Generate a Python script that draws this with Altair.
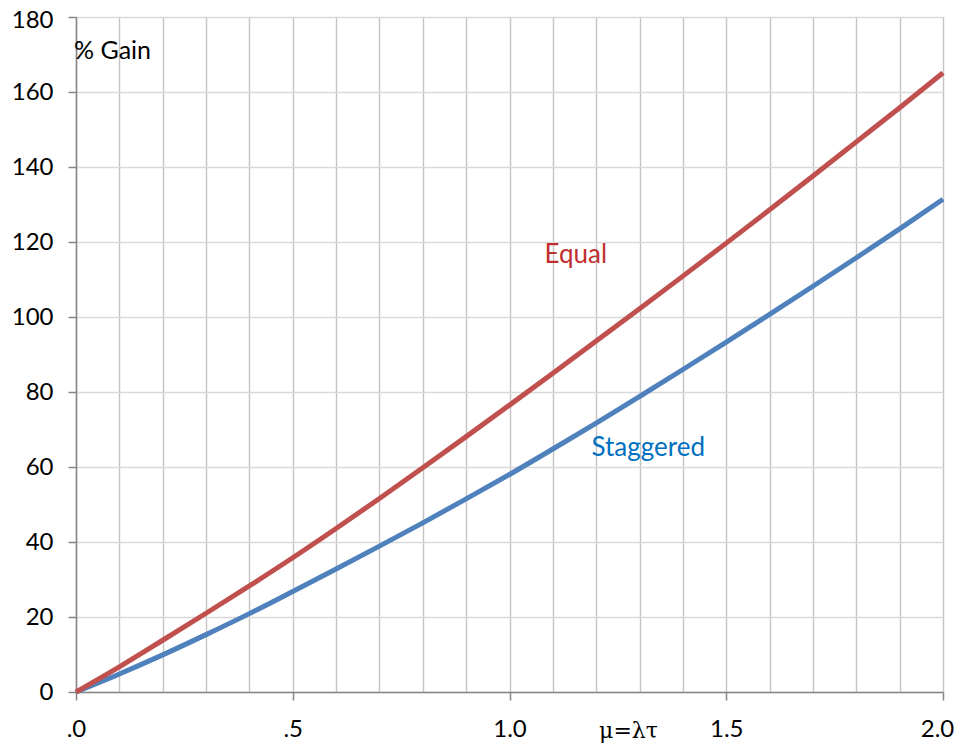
import altair as alt
import pandas as pd

mu = [0.0, 0.1, 0.2, 0.3, 0.4, 0.5, 0.6, 0.7, 0.8, 0.9, 1.0,
      1.1, 1.2, 1.3, 1.4, 1.5, 1.6, 1.7, 1.8, 1.9, 2.0]
equal = [0.0, 6.7, 13.8, 21.0, 28.3, 35.8, 43.6, 51.6, 59.8, 68.1, 76.5,
         85.0, 93.6, 102.2, 110.9, 119.7, 128.6, 137.6, 146.7, 155.8, 165.1]
staggered = [0.0, 4.8, 9.9, 15.3, 20.9, 26.8, 32.8, 38.9, 45.1, 51.5, 58.0,
             64.8, 71.7, 78.8, 86.0, 93.3, 100.7, 108.2, 115.8, 123.5, 131.4]

x_grid_values = mu
y_tick_values = [0, 20, 40, 60, 80, 100, 120, 140, 160, 180]

label_text = ["% Gain", "Equal", "Staggered"]
label_mu = [0.0, 1.153, 1.32]
label_gain = [171.0, 116.5, 65.2]
label_color = ["#000000", "#C0302E", "#0070C0"]

RED = "#C0504D"
BLUE = "#4F81BD"
FONT = "Lato"

df_eq = pd.DataFrame({"mu": mu, "gain": equal})
df_st = pd.DataFrame({"mu": mu, "gain": staggered})
labels = pd.DataFrame({"mu": label_mu, "gain": label_gain,
                       "text": label_text, "color": label_color})

x_scale = alt.Scale(domain=[0, 2.0], nice=False, zero=False)
y_scale = alt.Scale(domain=[0, 180], nice=False)

half_test = "abs(datum.value*2 - round(datum.value*2)) < 0.001"

x_axis = alt.Axis(
    values=x_grid_values,
    title="μ=λτ",
    titleFont="DejaVu Serif",
    titleFontSize=22,
    titleFontWeight="normal",
    titleColor="#000000",
    titleX=552,
    titleY=45,
    titleAnchor="start",
    titleAlign="center",
    titleBaseline="alphabetic",
    labelExpr=half_test + " ? (datum.value < 1 ? '.' + format(datum.value*10, 'd') : format(datum.value, '.1f')) : ''",
    labelFont=FONT,
    labelFontSize=24,
    labelColor="#000000",
    labelPadding=17,
    labelFlush=False,
    labelOverlap=False,
    labelOffset={"condition": {"test": "datum.value > 1.95", "value": -6}, "value": 0},
    tickSize=8,
    tickColor="#868686",
    tickWidth=1.5,
    tickOpacity={"condition": {"test": half_test, "value": 1}, "value": 0},
    domainColor="#868686",
    domainWidth=1.5,
    grid=True,
    gridColor="#C4C4C4",
    gridWidth=1.4,
)

y_axis = alt.Axis(
    values=y_tick_values,
    title=None,
    labelFont=FONT,
    labelFontSize=24,
    labelColor="#000000",
    labelPadding=15,
    labelFlush=False,
    labelOffset={"condition": {"test": "datum.value > 175", "value": 3}, "value": 0},
    tickSize=8,
    tickColor="#868686",
    tickWidth=1.5,
    domainColor="#868686",
    domainWidth=1.5,
    grid=True,
    gridColor="#D9D9D9",
    gridWidth=1.4,
)

enc = dict(
    x=alt.X("mu:Q", scale=x_scale, axis=x_axis),
    y=alt.Y("gain:Q", scale=y_scale, axis=y_axis),
)

line_st = alt.Chart(df_st).mark_line(color=BLUE, strokeWidth=5, interpolate="monotone").encode(**enc)
line_eq = alt.Chart(df_eq).mark_line(color=RED, strokeWidth=5, interpolate="monotone").encode(**enc)

gain_label = alt.Chart(labels.iloc[[0]]).mark_text(
    font=FONT, fontSize=25, align="left", baseline="middle", dx=-2
).encode(text="text:N", color=alt.Color("color:N", scale=None), **enc)

series_labels = alt.Chart(labels.iloc[[1, 2]]).mark_text(
    font=FONT, fontSize=26, align="center", baseline="middle"
).encode(text="text:N", color=alt.Color("color:N", scale=None), **enc)

chart = alt.layer(line_st, line_eq, gain_label, series_labels).properties(
    width=867,
    height=675,
    autosize=alt.AutoSizeParams(type="none"),
    padding={"left": 68, "top": 9, "right": 12, "bottom": 51},
).configure_view(stroke=None).configure(background="white")

chart.save("out.html", embed_options={"renderer": "svg", "actions": False})
